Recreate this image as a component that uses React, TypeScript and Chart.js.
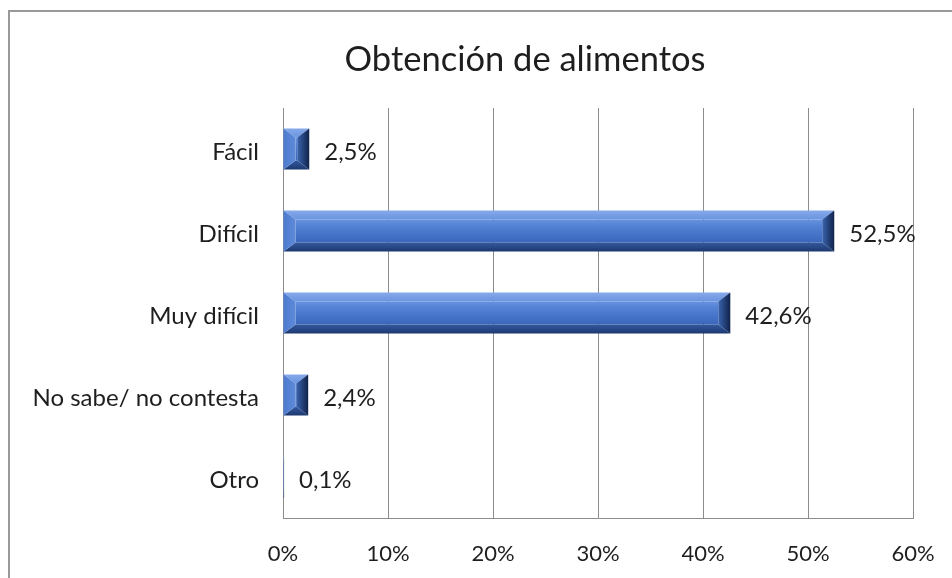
import React, { useEffect, useRef } from "react";
import { Chart, registerables } from "chart.js";

Chart.register(...registerables);

const title = "Obtención de alimentos";
const categories = ["Fácil", "Difícil", "Muy difícil", "No sabe/ no contesta", "Otro"];
const values = [2.5, 52.5, 42.6, 2.4, 0.1];
const valueLabels = ["2,5%", "52,5%", "42,6%", "2,4%", "0,1%"];
const xMin = 0;
const xMax = 60;
const xStep = 10;

const FONT = "Lato, 'Open Sans', sans-serif";
const TEXT = "#1e1e1e";
const GRID = "#8c8c8c";

const titlePlugin = {
  id: "centeredTitle",
  afterDraw(chart: any) {
    const ctx = chart.ctx as CanvasRenderingContext2D;
    ctx.save();
    ctx.font = `34.5px ${FONT}`;
    ctx.fillStyle = TEXT;
    ctx.textAlign = "center";
    ctx.textBaseline = "middle";
    ctx.fillText(title, 525, 59.7);
    ctx.restore();
  },
};

const bevelPlugin = {
  id: "bevelBars",
  afterDatasetsDraw(chart: any) {
    const ctx = chart.ctx as CanvasRenderingContext2D;
    const meta = chart.getDatasetMeta(0);
    meta.data.forEach((el: any) => {
      const p = el.getProps(["x", "y", "base", "height"], true);
      const left = Math.min(p.base, p.x);
      const right = Math.max(p.base, p.x);
      const top = p.y - p.height / 2;
      const bottom = p.y + p.height / 2;
      const w = right - left;
      const h = bottom - top;
      if (w < 0.5) return;
      const bx = Math.min(12, w / 2);
      const by = Math.min(9, h / 2);
      ctx.save();
      // face
      let g = ctx.createLinearGradient(0, top + by, 0, bottom - by);
      g.addColorStop(0, "#6792df");
      g.addColorStop(0.25, "#5683d6");
      g.addColorStop(0.6, "#4775c9");
      g.addColorStop(1, "#3b67bb");
      ctx.fillStyle = g;
      ctx.fillRect(left + bx, top + by, w - 2 * bx, h - 2 * by);
      // top
      g = ctx.createLinearGradient(0, top, 0, top + by);
      g.addColorStop(0, "#86a9ea");
      g.addColorStop(1, "#6a94e0");
      ctx.fillStyle = g;
      ctx.beginPath();
      ctx.moveTo(left, top);
      ctx.lineTo(right, top);
      ctx.lineTo(right - bx, top + by);
      ctx.lineTo(left + bx, top + by);
      ctx.closePath();
      ctx.fill();
      // bottom
      g = ctx.createLinearGradient(0, bottom - by, 0, bottom);
      g.addColorStop(0, "#34599f");
      g.addColorStop(1, "#1d3870");
      ctx.fillStyle = g;
      ctx.beginPath();
      ctx.moveTo(left + bx, bottom - by);
      ctx.lineTo(right - bx, bottom - by);
      ctx.lineTo(right, bottom);
      ctx.lineTo(left, bottom);
      ctx.closePath();
      ctx.fill();
      // left
      g = ctx.createLinearGradient(left, 0, left + bx, 0);
      g.addColorStop(0, "#4d7bcf");
      g.addColorStop(1, "#5e8ad9");
      ctx.fillStyle = g;
      ctx.beginPath();
      ctx.moveTo(left, top);
      ctx.lineTo(left + bx, top + by);
      ctx.lineTo(left + bx, bottom - by);
      ctx.lineTo(left, bottom);
      ctx.closePath();
      ctx.fill();
      // right
      g = ctx.createLinearGradient(right - bx, 0, right, 0);
      g.addColorStop(0, "#3a64ae");
      g.addColorStop(1, "#10224a");
      ctx.fillStyle = g;
      ctx.beginPath();
      ctx.moveTo(right, top);
      ctx.lineTo(right, bottom);
      ctx.lineTo(right - bx, bottom - by);
      ctx.lineTo(right - bx, top + by);
      ctx.closePath();
      ctx.fill();
      ctx.restore();
    });
    // value labels
    ctx.save();
    ctx.font = `24px ${FONT}`;
    ctx.fillStyle = TEXT;
    ctx.textAlign = "left";
    ctx.textBaseline = "middle";
    meta.data.forEach((el: any, i: number) => {
      const p = el.getProps(["x", "y"], true);
      ctx.fillText(valueLabels[i], p.x + 15, p.y + 3);
    });
    ctx.restore();
  },
};

export default function App() {
  const ref = useRef<HTMLCanvasElement>(null);
  useEffect(() => {
    if (!ref.current) return;
    const chart = new Chart(ref.current, {
      type: "bar",
      data: {
        labels: categories,
        datasets: [
          {
            data: values,
            backgroundColor: "rgba(0,0,0,0)",
            borderWidth: 0,
            barPercentage: 0.5,
            categoryPercentage: 1,
          },
        ],
      },
      options: {
        indexAxis: "y",
        animation: false,
        responsive: false,
        events: [],
        layout: { padding: { left: 0, right: 137, top: 108, bottom: 0 } },
        plugins: {
          legend: { display: false },
          tooltip: { enabled: false },
          title: { display: false },
        },
        scales: {
          x: {
            min: xMin,
            max: xMax,
            afterFit: (s: any) => {
              s.height = 60;
            },
            ticks: {
              stepSize: xStep,
              color: TEXT,
              font: { family: FONT, size: 22 },
              padding: 23,
              callback: (v: any) => `${v}%`,
            },
            grid: { color: GRID, lineWidth: 1, drawTicks: false },
            border: { color: GRID, width: 1 },
          },
          y: {
            afterFit: (s: any) => {
              s.width = 283;
            },
            ticks: {
              color: TEXT,
              font: { family: FONT, size: 24 },
              padding: 24,
              labelOffset: 3,
            },
            grid: { display: false, drawTicks: false },
            border: { color: GRID, width: 1 },
          },
        },
      },
      plugins: [bevelPlugin, titlePlugin],
    });
    return () => chart.destroy();
  }, []);
  return (
    <div style={{ position: "fixed", inset: 0, overflow: "hidden", background: "#fff" }}>
      <div
        style={{
          position: "absolute",
          left: 8,
          top: 10,
          width: 1100,
          height: 700,
          border: "2px solid #999",
          boxSizing: "border-box",
        }}
      />
      <canvas
        ref={ref}
        width={1050}
        height={578}
        style={{ position: "absolute", left: 0, top: 0, width: 1050, height: 578 }}
      />
    </div>
  );
}
